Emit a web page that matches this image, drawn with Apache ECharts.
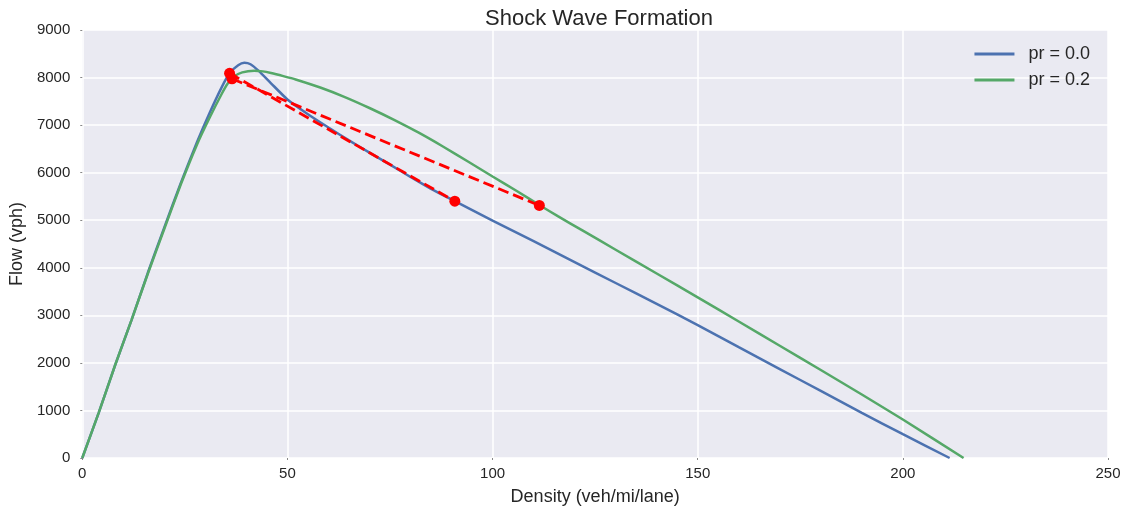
<!DOCTYPE html>
<html>
<head>
<meta charset="utf-8">
<script src="https://cdn.jsdelivr.net/npm/echarts@6/dist/echarts.min.js"></script>
<style>
  html, body { margin: 0; padding: 0; background: #ffffff; }
  #chart { width: 1131px; height: 512px; }
</style>
</head>
<body>
<div id="chart"></div>
<script>
// Flow–density curves for two penetration rates
const densityPr00 = [0, 4, 8, 12, 16, 20, 24, 28, 31, 34, 36, 38, 39.5, 41, 43, 46, 50, 55, 60, 65, 70, 75, 80, 85, 90.8, 100, 110, 120, 130, 140, 150, 160, 170, 180, 190, 200, 211.4];
const flowPr00    = [0, 950, 1950, 2900, 3900, 4850, 5780, 6650, 7250, 7800, 8100, 8260, 8310, 8280, 8140, 7880, 7540, 7230, 6950, 6680, 6420, 6170, 5910, 5660, 5400, 4990, 4560, 4120, 3680, 3240, 2796, 2330, 1870, 1410, 950, 500, 0];

const densityPr02 = [0, 4, 8, 12, 16, 20, 24, 28, 31, 34, 35.5, 37, 39, 41.9, 44, 46, 49, 52, 58, 64, 70, 76, 82, 88, 94, 100, 106, 111.4, 116, 122, 130, 140, 150, 160, 170, 180, 190, 200, 214.8];
const flowPr02    = [0, 950, 1950, 2900, 3880, 4820, 5750, 6600, 7150, 7660, 7880, 8020, 8110, 8145, 8130, 8095, 8030, 7960, 7790, 7590, 7360, 7110, 6840, 6545, 6235, 5920, 5610, 5320, 5080, 4780, 4380, 3880, 3379, 2870, 2360, 1850, 1335, 810, 0];

// Shock wave chords: upstream state -> downstream state
const shockDensityA = [35.9, 90.8];
const shockFlowA    = [8090, 5400];
const shockDensityB = [36.5, 111.4];
const shockFlowB    = [7975, 5310];

// Axis ticks
const xTicks = [0, 50, 100, 150, 200, 250];
const yTicks = [0, 1000, 2000, 3000, 4000, 5000, 6000, 7000, 8000, 9000];

const seriesNames = ['pr = 0.0', 'pr = 0.2'];

const pairs = (xs, ys) => xs.map((x, i) => [x, ys[i]]);

const FONT = '"Liberation Sans", Arial, sans-serif';
const TEXT = '#262626';

const chart = echarts.init(document.getElementById('chart'), null, { renderer: 'canvas' });

chart.setOption({
  animation: false,
  backgroundColor: '#ffffff',
  title: {
    text: 'Shock Wave Formation',
    left: 594, top: 3, textAlign: 'center',
    textStyle: { fontFamily: FONT, fontSize: 22, fontWeight: 'normal', color: TEXT }
  },
  grid: {
    left: 81, right: 23, top: 30, bottom: 54,
    show: true, backgroundColor: '#EAEAF2', borderWidth: 0
  },
  legend: {
    data: seriesNames,
    orient: 'vertical',
    right: 36, top: 38,
    icon: 'rect',
    itemWidth: 40, itemHeight: 3,
    itemGap: 4,
    textStyle: { fontFamily: FONT, fontSize: 18, color: TEXT, lineHeight: 22, padding: [0, 0, 0, 9] }
  },
  xAxis: {
    type: 'value',
    min: xTicks[0], max: xTicks[xTicks.length - 1], interval: 50,
    name: 'Density (veh/mi/lane)',
    nameLocation: 'middle', nameGap: 30,
    nameTextStyle: { fontFamily: FONT, fontSize: 18, color: TEXT },
    axisLine: { show: false },
    axisTick: { show: true, length: 2, lineStyle: { color: '#888' } },
    axisLabel: { fontFamily: FONT, fontSize: 15, color: TEXT, margin: 8 },
    splitLine: { show: true, lineStyle: { color: '#ffffff', width: 1.5 } }
  },
  yAxis: {
    type: 'value',
    min: yTicks[0], max: yTicks[yTicks.length - 1], interval: 1000,
    name: 'Flow (vph)',
    nameLocation: 'middle', nameGap: 54,
    nameTextStyle: { fontFamily: FONT, fontSize: 18, color: TEXT },
    axisLine: { show: false },
    axisTick: { show: true, length: 2, lineStyle: { color: '#888' } },
    axisLabel: { fontFamily: FONT, fontSize: 15, color: TEXT, margin: 12, formatter: v => String(v) },
    splitLine: { show: true, lineStyle: { color: '#ffffff', width: 1.5 } }
  },
  series: [
    {
      name: seriesNames[0], type: 'line',
      data: pairs(densityPr00, flowPr00),
      showSymbol: false, smooth: 0.2,
      lineStyle: { color: '#4C72B0', width: 2.5 },
      itemStyle: { color: '#4C72B0' },
      z: 2
    },
    {
      name: seriesNames[1], type: 'line',
      data: pairs(densityPr02, flowPr02),
      showSymbol: false, smooth: 0.2,
      lineStyle: { color: '#55A868', width: 2.5 },
      itemStyle: { color: '#55A868' },
      z: 2
    },
    {
      name: 'shockA', type: 'line',
      data: pairs(shockDensityA, shockFlowA),
      showSymbol: true, symbol: 'circle', symbolSize: 11,
      itemStyle: { color: '#FF0000' },
      lineStyle: { color: '#FF0000', width: 2.8, type: [11, 5] },
      z: 3
    },
    {
      name: 'shockB', type: 'line',
      data: pairs(shockDensityB, shockFlowB),
      showSymbol: true, symbol: 'circle', symbolSize: 11,
      itemStyle: { color: '#FF0000' },
      lineStyle: { color: '#FF0000', width: 2.8, type: [11, 5] },
      z: 3
    }
  ]
});
</script>
</body>
</html>
